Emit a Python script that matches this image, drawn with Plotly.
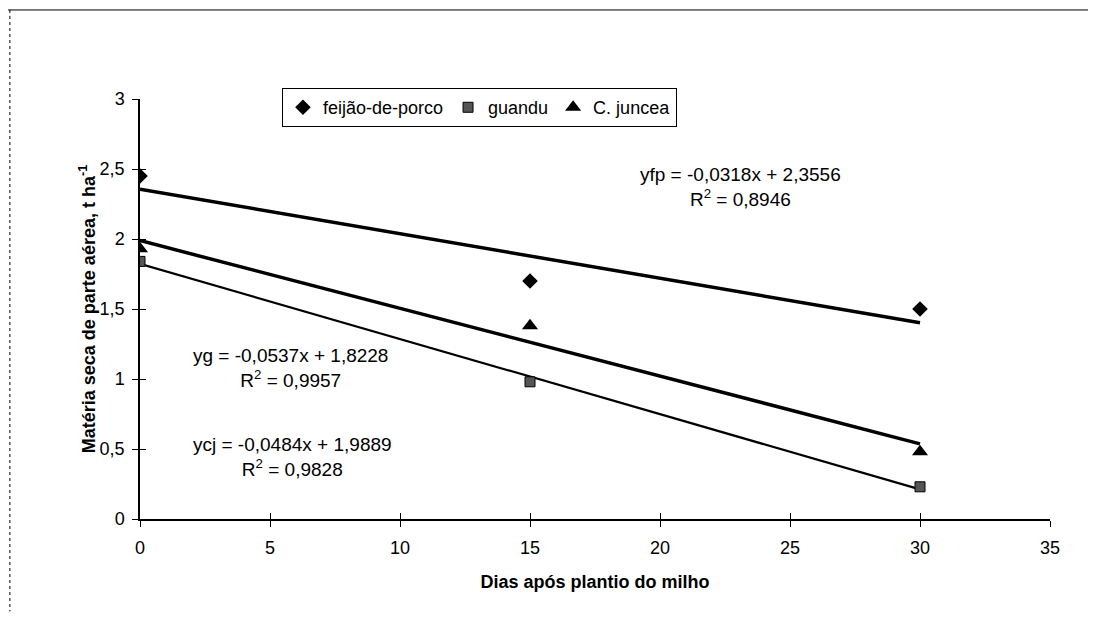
import plotly.graph_objects as go

# Data
dias = [0, 15, 30]
feijao = [2.45, 1.70, 1.50]
guandu = [1.84, 0.98, 0.23]
juncea = [1.93, 1.38, 0.48]

series_names = ["feijão-de-porco", "guandu", "C. juncea"]
# regression coefficients (slope, intercept)
reg_feijao = (-0.0318, 2.3556)
reg_guandu = (-0.0537, 1.8228)
reg_juncea = (-0.0484, 1.9889)

x_ticks = [0, 5, 10, 15, 20, 25, 30, 35]
y_ticks = [0, 0.5, 1, 1.5, 2, 2.5, 3]
y_tick_labels = ["0", "0,5", "1", "1,5", "2", "2,5", "3"]

FONT = "Liberation Sans, Arial, sans-serif"

fig = go.Figure()

def line_vals(coef):
    return [coef[0] * d + coef[1] for d in dias]

# trend lines
fig.add_trace(go.Scatter(x=dias, y=line_vals(reg_feijao), mode="lines",
                         line=dict(color="black", width=3.5), showlegend=False, hoverinfo="skip"))
fig.add_trace(go.Scatter(x=dias, y=line_vals(reg_juncea), mode="lines",
                         line=dict(color="black", width=3.5), showlegend=False, hoverinfo="skip"))
fig.add_trace(go.Scatter(x=dias, y=line_vals(reg_guandu), mode="lines",
                         line=dict(color="black", width=2.2), showlegend=False, hoverinfo="skip"))

# points
fig.add_trace(go.Scatter(x=dias, y=feijao, mode="markers", name=series_names[0],
                         marker=dict(symbol="diamond", size=12, color="black")))
fig.add_trace(go.Scatter(x=dias, y=guandu, mode="markers", name=series_names[1],
                         marker=dict(symbol="square", size=10, color="#555555",
                                     line=dict(color="black", width=1))))
fig.add_trace(go.Scatter(x=dias, y=juncea, mode="markers", name=series_names[2],
                         marker=dict(symbol="triangle-up", size=14, color="black")))

# invisible overlay axes to make ticks cross the axis lines
fig.add_trace(go.Scatter(x=[None], y=[None], xaxis="x2", yaxis="y2", showlegend=False, hoverinfo="skip"))

ann_font = dict(family=FONT, size=19, color="black")
fig.add_annotation(x=23.1, y=2.37, xref="x", yref="y", showarrow=False,
                   text="yfp = -0,0318x + 2,3556<br>R<sup>2</sup> = 0,8946", font=ann_font, align="center")
fig.add_annotation(x=5.8, y=1.08, xref="x", yref="y", showarrow=False,
                   text="yg = -0,0537x + 1,8228<br>R<sup>2</sup> = 0,9957", font=ann_font, align="center")
fig.add_annotation(x=5.85, y=0.44, xref="x", yref="y", showarrow=False,
                   text="ycj = -0,0484x + 1,9889<br>R<sup>2</sup> = 0,9828", font=ann_font, align="center")

# y-axis title as rotated annotation
fig.add_annotation(x=-0.058, y=0.5, xref="paper", yref="paper", showarrow=False, textangle=-90,
                   xanchor="center", yanchor="middle",
                   text="<b>Matéria seca de parte aérea, t ha<sup>-1</sup></b>",
                   font=dict(family=FONT, size=18, color="black"))

# outer frame lines (top and left)
fig.add_shape(type="line", xref="paper", yref="paper", x0=-0.145, x1=1.05, y0=1.212, y1=1.212,
              line=dict(color="black", width=1))
fig.add_shape(type="line", xref="paper", yref="paper", x0=-0.143, x1=-0.143, y0=1.212, y1=-0.22,
              line=dict(color="black", width=1, dash="dot"))

fig.update_layout(
    width=1080, height=610,
    margin=dict(l=132, r=38, t=91, b=99),
    paper_bgcolor="white", plot_bgcolor="white",
    font=dict(family=FONT, size=18, color="black"),
    legend=dict(orientation="h", x=0.156, y=1.026, xanchor="left", yanchor="top",
                bordercolor="black", borderwidth=1, bgcolor="white",
                font=dict(family=FONT, size=18), itemwidth=30, tracegroupgap=0),
    xaxis=dict(range=[0, 35], tickvals=x_ticks, ticktext=[str(t) for t in x_ticks],
               showgrid=False, zeroline=False, showline=True, linecolor="black", linewidth=1.5,
               ticks="outside", ticklen=6, tickcolor="black", ticklabelstandoff=6,
               tickfont=dict(family=FONT, size=18),
               title=dict(text="<b>Dias após plantio do milho</b>", font=dict(family=FONT, size=18), standoff=18)),
    yaxis=dict(range=[0, 3], tickvals=y_ticks, ticktext=y_tick_labels,
               showgrid=False, zeroline=False, showline=True, linecolor="black", linewidth=1.5,
               ticks="outside", ticklen=6, tickcolor="black", ticklabelstandoff=4,
               tickfont=dict(family=FONT, size=18)),
    xaxis2=dict(range=[0, 35], tickvals=x_ticks, overlaying="x", anchor="y2", side="bottom",
                showgrid=False, zeroline=False, showline=False, showticklabels=False,
                ticks="inside", ticklen=6, tickcolor="black"),
    yaxis2=dict(range=[0, 3], tickvals=y_ticks, overlaying="y", anchor="x2", side="left",
                showgrid=False, zeroline=False, showline=False, showticklabels=False,
                ticks="inside", ticklen=6, tickcolor="black"),
)

fig.write_html("out.html")
